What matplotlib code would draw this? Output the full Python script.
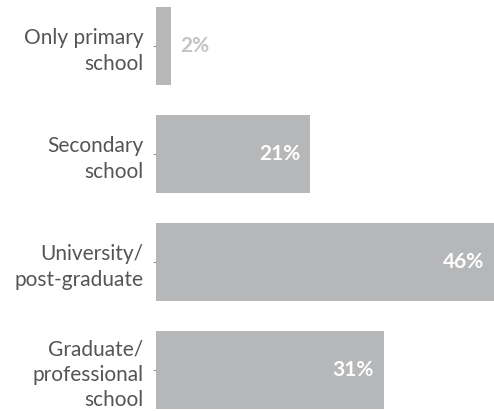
import matplotlib.pyplot as plt

# Education level shares
categories = ['Only primary\nschool', 'Secondary\nschool', 'University/\npost-graduate',
              'Graduate/\nprofessional\nschool']
shares = [2, 21, 46, 31]
value_labels = ['2%', '21%', '46%', '31%']

plt.rcParams['font.family'] = ['Lato', 'DejaVu Sans']

fig = plt.figure(figsize=(4.94, 4.11), dpi=100)
ax = fig.add_axes([156 / 494, 0, 1 - 156 / 494, 1])

pos = list(range(len(categories)))
bars = ax.barh(pos, shares, height=0.72, color='#b6b7b9')

ax.set_xlim(0, 46)
ax.set_ylim((411 - 46) / 108, -46 / 108)

ax.set_yticks(pos)
ax.set_yticklabels(categories, fontsize=15, color='#555555', linespacing=1.35)
ax.tick_params(axis='y', length=2, width=0.8, color='#999999', pad=7)
ax.set_xticks([])
for s in ax.spines.values():
    s.set_visible(False)

for p, v, lab in zip(pos, shares, value_labels):
    if v < 5:
        ax.annotate(lab, (v, p), xytext=(7, 0), textcoords='offset points',
                    ha='left', va='center', fontsize=15, fontweight='bold', color='#c4c4c4')
    else:
        ax.annotate(lab, (v, p), xytext=(-7, 0), textcoords='offset points',
                    ha='right', va='center', fontsize=15, fontweight='bold', color='white')

fig.savefig('out.png', dpi=100)
